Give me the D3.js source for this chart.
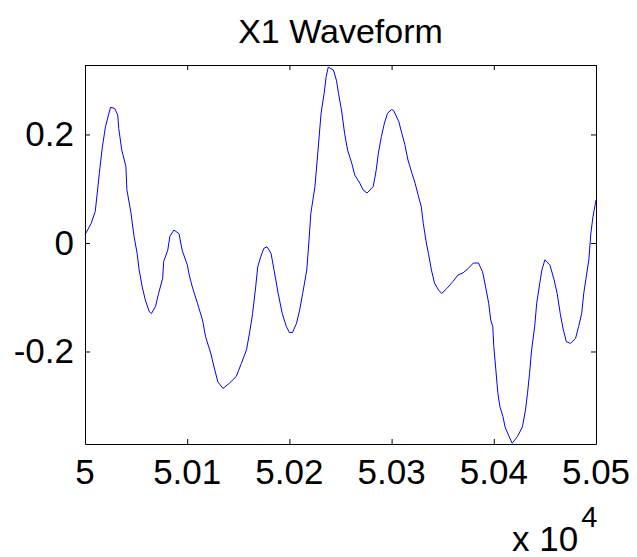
<!DOCTYPE html>
<html>
<head>
<meta charset="utf-8">
<script src="https://cdn.jsdelivr.net/npm/d3@7"></script>
<style>
    body { margin: 0; background: #fff; }
    svg { display: block; font-family: "Liberation Sans", Arial, sans-serif; }
    .tick-label { font-size: 35px; fill: #000; }
    .title { font-size: 34px; fill: #000; }
</style>
</head>
<body>
<script>
// Sample indices and waveform values
const samples = [50000, 50006, 50010, 50012, 50014, 50017, 50020, 50023, 50025, 50029,
    50032, 50033, 50036, 50040, 50041, 50045, 50048, 50051, 50053, 50056,
    50059, 50063, 50065, 50069, 50072, 50076, 50077, 50081, 50083, 50087,
    50092, 50095, 50100, 50102, 50105, 50110, 50115, 50118, 50123, 50127,
    50130, 50135, 50141, 50148, 50153, 50158, 50161, 50164, 50167, 50169,
    50172, 50175, 50178, 50182, 50185, 50189, 50193, 50197, 50200, 50203,
    50207, 50210, 50213, 50217, 50219, 50221, 50225, 50228, 50231, 50234,
    50236, 50238, 50243, 50246, 50248, 50251, 50254, 50257, 50261, 50264,
    50269, 50272, 50276, 50282, 50285, 50287, 50290, 50293, 50296, 50300,
    50302, 50307, 50310, 50313, 50316, 50320, 50323, 50326, 50329, 50331,
    50334, 50336, 50339, 50342, 50346, 50349, 50354, 50360, 50365, 50370,
    50375, 50380, 50385, 50389, 50392, 50395, 50397, 50399, 50400, 50402,
    50404, 50406, 50409, 50411, 50415, 50418, 50423, 50428, 50431, 50433,
    50435, 50437, 50440, 50442, 50445, 50447, 50450, 50455, 50459, 50462,
    50465, 50468, 50471, 50475, 50480, 50483, 50486, 50488, 50490, 50493,
    50495, 50497, 50500];
const x1Values = [0.015, 0.036, 0.058, 0.092, 0.128, 0.177, 0.214, 0.236, 0.250, 0.248,
    0.236, 0.211, 0.171, 0.141, 0.098, 0.055, 0.012, -0.019, -0.050, -0.081,
    -0.105, -0.127, -0.130, -0.117, -0.093, -0.065, -0.034, -0.013, 0.012, 0.024,
    0.017, -0.013, -0.040, -0.059, -0.081, -0.111, -0.142, -0.173, -0.203, -0.234,
    -0.256, -0.268, -0.259, -0.246, -0.222, -0.197, -0.166, -0.130, -0.081, -0.044,
    -0.025, -0.010, -0.007, -0.019, -0.050, -0.093, -0.130, -0.154, -0.165, -0.165,
    -0.148, -0.124, -0.093, -0.050, 0.000, 0.055, 0.104, 0.171, 0.239, 0.276,
    0.307, 0.324, 0.319, 0.300, 0.276, 0.245, 0.202, 0.171, 0.147, 0.125,
    0.110, 0.098, 0.092, 0.104, 0.135, 0.165, 0.196, 0.221, 0.239, 0.246,
    0.244, 0.224, 0.202, 0.181, 0.153, 0.128, 0.110, 0.088, 0.067, 0.036,
    0.000, -0.019, -0.050, -0.074, -0.087, -0.093, -0.084, -0.071, -0.059, -0.055,
    -0.047, -0.037, -0.037, -0.053, -0.081, -0.111, -0.142, -0.154, -0.191, -0.234,
    -0.277, -0.302, -0.320, -0.339, -0.357, -0.369, -0.357, -0.339, -0.308, -0.277,
    -0.240, -0.197, -0.154, -0.111, -0.074, -0.050, -0.031, -0.041, -0.068, -0.093,
    -0.130, -0.160, -0.182, -0.185, -0.176, -0.154, -0.130, -0.093, -0.068, -0.031,
    0.018, 0.048, 0.079];

const xTicks = [50000, 50100, 50200, 50300, 50400, 50500];
const xTickLabels = ["5", "5.01", "5.02", "5.03", "5.04", "5.05"];
const yTicks = [-0.2, 0, 0.2];
const yTickLabels = ["-0.2", "0", "0.2"];

const width = 637;
const height = 557;
const plotLeft = 85, plotRight = 596, plotTop = 65, plotBottom = 444;
const tickLen = 5;

const svg = d3.select("body").append("svg").attr("width", width).attr("height", height);

//Scales, tight to the data like matlab's axis tight.
const xScale = d3.scaleLinear().domain([50000, 50500]).range([plotLeft, plotRight]);
const yScale = d3.scaleLinear().domain([-0.3705, 0.328]).range([plotBottom, plotTop]);

//Waveform line.
const data = samples.map((s, i) => [s, x1Values[i]]);
const line = d3.line().x((d) => xScale(d[0])).y((d) => yScale(d[1]));

svg.append("path")
    .datum(data)
    .attr("d", line)
    .attr("fill", "none")
    .attr("stroke", "#0000ff")
    .attr("stroke-width", 1);

//Axes, ticks pointing inward, mirrored on top and right.
const xAxisBottom = d3.axisBottom(xScale).tickValues(xTicks).tickSizeInner(-tickLen).tickSizeOuter(0).tickFormat("");
const xAxisTop = d3.axisTop(xScale).tickValues(xTicks).tickSizeInner(-tickLen).tickSizeOuter(0).tickFormat("");
const yAxisLeft = d3.axisLeft(yScale).tickValues(yTicks).tickSizeInner(-tickLen).tickSizeOuter(0).tickFormat("");
const yAxisRight = d3.axisRight(yScale).tickValues(yTicks).tickSizeInner(-tickLen).tickSizeOuter(0).tickFormat("");

svg.append("g").attr("transform", "translate(0," + plotBottom + ")").call(xAxisBottom);
svg.append("g").attr("transform", "translate(0," + plotTop + ")").call(xAxisTop);
svg.append("g").attr("transform", "translate(" + plotLeft + ",0)").call(yAxisLeft);
svg.append("g").attr("transform", "translate(" + plotRight + ",0)").call(yAxisRight);

svg.selectAll(".domain").attr("stroke", "#000");
svg.selectAll(".tick line").attr("stroke", "#000");

//Tick labels.
svg.selectAll(".xlabel")
    .data(xTicks)
    .enter()
    .append("text")
    .attr("class", "tick-label")
    .attr("x", (d) => xScale(d))
    .attr("y", plotBottom + 40)
    .attr("text-anchor", "middle")
    .text((d, i) => xTickLabels[i]);

svg.selectAll(".ylabel")
    .data(yTicks)
    .enter()
    .append("text")
    .attr("class", "tick-label")
    .attr("x", plotLeft - 11)
    .attr("y", (d) => yScale(d) + 12)
    .attr("text-anchor", "end")
    .text((d, i) => yTickLabels[i]);

//Exponent label.
const expo = svg.append("text")
    .attr("class", "tick-label")
    .attr("x", 512)
    .attr("y", 551);
expo.append("tspan").text("x 10");
expo.append("tspan").attr("dx", 3).attr("dy", -24).style("font-size", "29px").text("4");

//Title.
svg.append("text")
    .attr("class", "title")
    .attr("x", (plotLeft + plotRight) / 2)
    .attr("y", 43)
    .attr("text-anchor", "middle")
    .text("X1 Waveform");
</script>
</body>
</html>
